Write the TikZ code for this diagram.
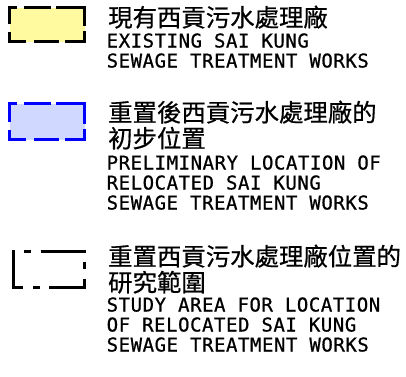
\documentclass[tikz,border=0pt]{standalone}
\usepackage{fontspec}
\newfontfamily\cjk[FakeBold=0.6]{Noto Sans CJK TC}
\newfontfamily\cad[LetterSpace=2.9,FakeBold=0.8]{DejaVu Sans Mono}
\definecolor{paleyellow}{RGB}{255,250,160}
\definecolor{palelav}{RGB}{208,216,255}
\tikzset{
  zhlabel/.style={anchor=base west, inner sep=0pt, font=\cjk\fontsize{24.4}{28}\selectfont},
  enlabel/.style={anchor=base west, inner sep=0pt, font=\cad\fontsize{19}{20}\selectfont},
  legendline/.style={line width=2.8pt, line join=miter},
}
\begin{document}
\begin{tikzpicture}[x=1pt,y=-1pt]
\useasboundingbox (0,0) rectangle (406,376);
% existing works
\fill[paleyellow] (9.5,7.5) rectangle (84.5,41.5);
\draw[legendline, dash pattern=on 26.5 off 5.7 on 46.4 off 5.7 on 29.4 off 6.6 on 24.7 off 7.6 on 26.5 off 7.6 on 24.5 off 6.6]
  (24,7.5) -- (84.5,7.5) -- (84.5,41.5) -- (9.5,41.5) -- (9.5,7.5) -- cycle;
\node[zhlabel] (exzh) at (108,26.5) {現有西貢污水處理廠};
\node[enlabel] (exen1) at (106.5,47.5) {EXISTING SAI KUNG};
\node[enlabel] (exen2) at (106.5,67.5) {SEWAGE TREATMENT WORKS};
% preliminary location
\fill[palelav] (9.5,103.5) rectangle (84.5,139.5);
\draw[legendline, blue, dash pattern=on 26.5 off 5.7 on 48.4 off 5.7 on 29.4 off 6.6 on 24.7 off 7.6 on 26.5 off 7.6 on 26.5 off 6.6]
  (24,103.5) -- (84.5,103.5) -- (84.5,139.5) -- (9.5,139.5) -- (9.5,103.5) -- cycle;
\node[zhlabel] (plzh1) at (108,121.5) {重置後西貢污水處理廠的};
\node[zhlabel] (plzh2) at (108,147.5) {初步位置};
\node[enlabel] (plen1) at (106.5,169.5) {PRELIMINARY LOCATION OF};
\node[enlabel] (plen2) at (106.5,189.5) {RELOCATED SAI KUNG};
\node[enlabel] (plen3) at (106.5,209.5) {SEWAGE TREATMENT WORKS};
% study area
\draw[legendline, dash pattern=on 45 off 9 on 7 off 10]
  (21.5,287.5) -- (13.5,287.5) -- (13.5,251.5) -- (84.5,251.5) -- (84.5,287.5) -- cycle;
\node[zhlabel] (sazh1) at (108,265.5) {重置西貢污水處理廠位置的};
\node[zhlabel] (sazh2) at (108,291.5) {研究範圍};
\node[enlabel] (saen1) at (106.5,311.5) {STUDY AREA FOR LOCATION};
\node[enlabel] (saen2) at (106.5,331.5) {OF RELOCATED SAI KUNG};
\node[enlabel] (saen3) at (106.5,351.5) {SEWAGE TREATMENT WORKS};
\end{tikzpicture}
\end{document}
